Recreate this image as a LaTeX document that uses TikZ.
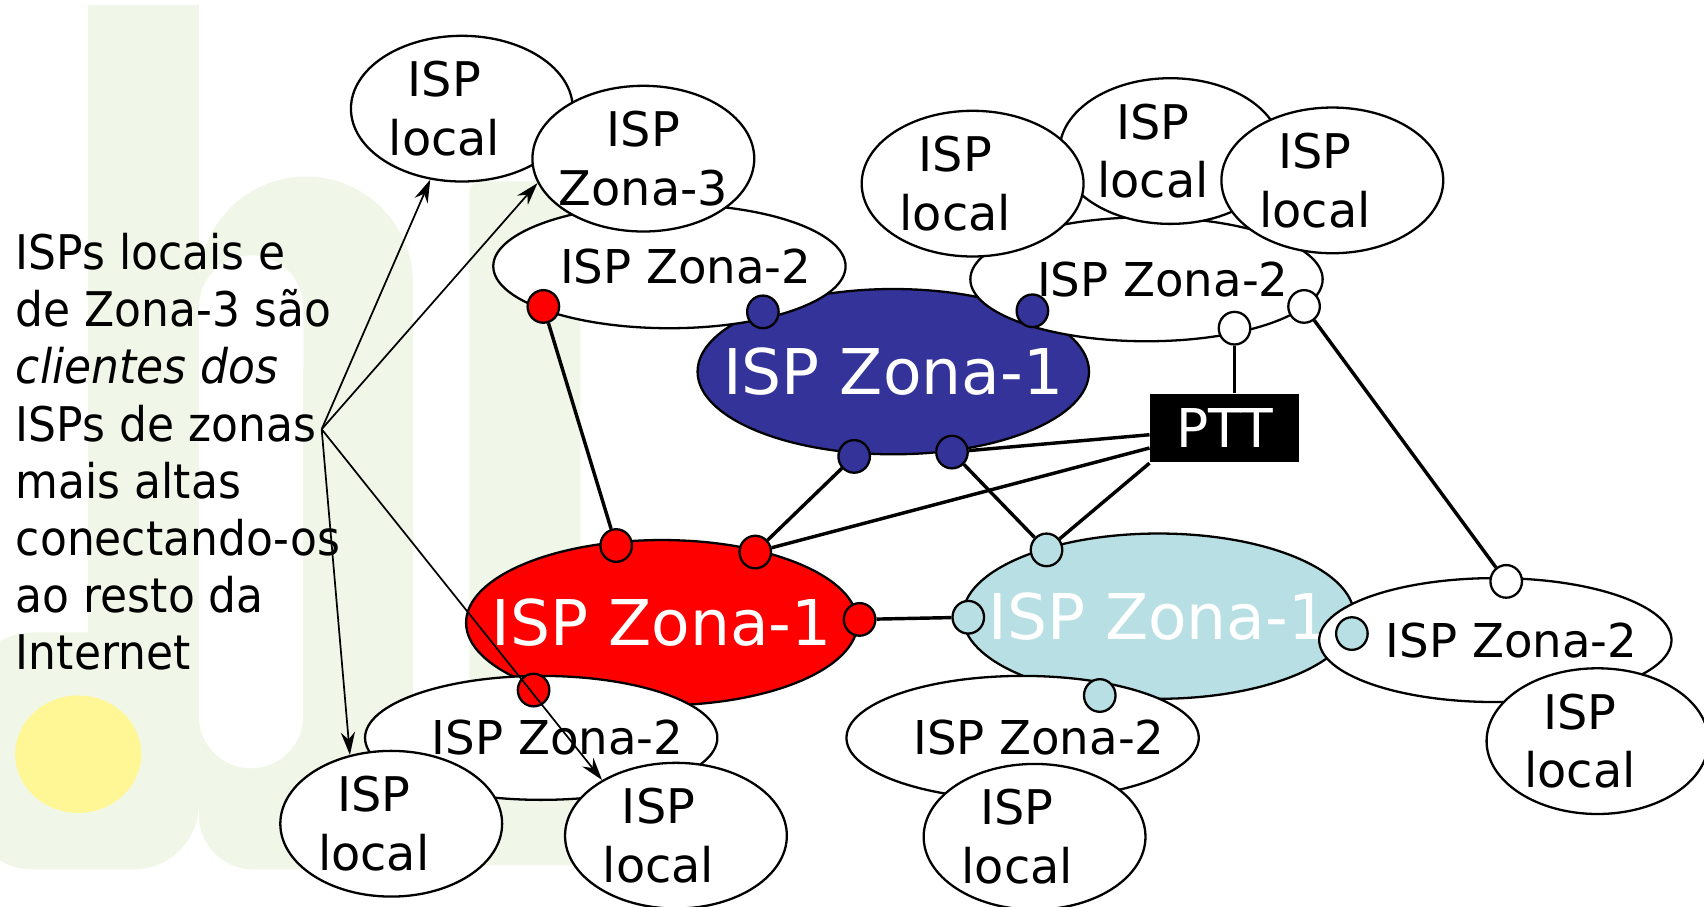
\documentclass[tikz,border=0pt]{standalone}
\usepackage{fontspec}
\setmainfont{DejaVu Sans}
\newfontfamily\textoesq{DejaVu Sans}[FakeStretch=0.92]
\usetikzlibrary{arrows.meta, shapes.geometric}
\definecolor{zonaazul}{RGB}{51,51,153}
\definecolor{zonavermelha}{RGB}{255,0,0}
\definecolor{zonaclara}{RGB}{184,223,227}
\definecolor{marcaverde}{RGB}{240,247,232}
\definecolor{marcaamarela}{RGB}{255,247,150}
\newcommand{\isploc}{ISP\hspace*{3.2mm}\\local\hspace*{3.2mm}}

\begin{document}
\begin{tikzpicture}[x=0.01cm, y=-0.01cm, font=\fontsize{12.5}{15.3}\selectfont,
    isp/.style={ellipse, draw, fill=white, line width=0.6pt, inner sep=-10pt, align=center},
    isplocal/.style={isp, minimum width=2.04cm, minimum height=1.34cm},
    zonadois/.style={isp, minimum width=3.24cm, minimum height=1.14cm, font=\fontsize{12.2}{14}\selectfont},
    zonaum/.style={isp, fill=#1, text=white, minimum width=3.6cm, minimum height=1.52cm, font=\fontsize{16.5}{19}\selectfont},
    porta/.style={ellipse, draw, fill=#1, line width=0.6pt, minimum width=0.29cm, minimum height=0.3cm, inner sep=0pt},
    enlace/.style={line width=0.9pt},
    seta/.style={line width=0.45pt, -{Stealth[length=0.21cm, width=0.13cm]}}]
    \useasboundingbox (0,0) rectangle (1568,834);

    % marca d'agua
    \fill[marcaverde] (81,5) rectangle (183,740);
    \fill[marcaverde, rounded corners=0.6cm] (-30,582) rectangle (183,800);
    \fill[marcaverde, even odd rule] (183,750) -- (183,261) arc[start angle=180, end angle=0, radius=0.985cm] -- (380,750) arc[start angle=0, end angle=-90, radius=0.5cm] -- (233,800) arc[start angle=-90, end angle=-180, radius=0.5cm] -- cycle
        (183,283) arc[start angle=180, end angle=0, radius=0.48cm] -- (279,659) arc[start angle=0, end angle=-180, radius=0.48cm] -- cycle;
    \fill[marcaverde, rounded corners=0.1cm] (432,167) rectangle (534,796);
    \fill[marcaamarela] (72,694) ellipse [x radius=0.58cm, y radius=0.54cm];

    \node[anchor=north west, inner sep=0pt, align=left, font=\textoesq\fontsize{12.5}{14.96}\selectfont] (texto) at (14,214)
        {ISPs locais e\\de Zona-3 são\\\textit{clientes dos}\\ISPs de zonas\\mais altas\\conectando-os\\ao resto da\\Internet};

    % zona-1 azul e vizinhos
    \node[isplocal] (locA) at (425,100) {\isploc};
    \node[zonaum=zonaazul] (z1azul) at (822,342) {ISP Zona-1};
    \node[zonadois] (z2a) at (616,245) {\hspace*{3mm}ISP Zona-2};
    \node[isplocal] (z3) at (592,146) {ISP\\Zona-3};
    \node[zonadois] (z2b) at (1055,257) {\hspace*{3mm}ISP Zona-2};
    \node[isplocal] (locB) at (1077,139) {\isploc};
    \node[isplocal] (locC) at (895,169) {\isploc};
    \node[isplocal] (locD) at (1226,166) {\isploc};

    % zona-1 vermelho
    \node[zonaum=zonavermelha] (z1verm) at (609,573) {ISP Zona-1};
    \node[zonadois] (z2c) at (498,679) {\hspace*{3mm}ISP Zona-2};
    \node[isplocal] (locE) at (360,758) {\isploc};
    \node[isplocal] (locF) at (622,769) {\isploc};

    % zona-1 clara
    \node[zonaum=zonaclara] (z1claro) at (1066,567) {ISP Zona-1};
    \node[zonadois] (z2d) at (941,679) {\hspace*{3mm}ISP Zona-2};
    \node[isplocal] (locG) at (952,770) {\isploc};
    \node[zonadois] (z2e) at (1376,589) {\hspace*{3mm}ISP Zona-2};
    \node[isplocal] (locH) at (1470,682) {\isploc};

    \node[fill=black, text=white, minimum width=1.37cm, minimum height=0.63cm, inner sep=0pt, font=\fontsize{14}{16}\selectfont] (ptt) at (1127,394) {PTT};

    % pontos de conexao
    \node[porta=zonavermelha] (v1) at (500,282) {};
    \node[porta=zonavermelha] (v2) at (567,502) {};
    \node[porta=zonavermelha] (v3) at (695,508) {};
    \node[porta=zonavermelha] (v4) at (791,570) {};
    \node[porta=zonavermelha] (v5) at (491,635) {};
    \node[porta=zonaazul] (a1) at (702,287) {};
    \node[porta=zonaazul] (a2) at (950,286) {};
    \node[porta=zonaazul] (a3) at (786,420) {};
    \node[porta=zonaazul] (a4) at (876,416) {};
    \node[porta=white] (b1) at (1136,302) {};
    \node[porta=white] (b2) at (1200,282) {};
    \node[porta=white] (b3) at (1386,535) {};
    \node[porta=zonaclara] (c1) at (963,506) {};
    \node[porta=zonaclara] (c2) at (891,568) {};
    \node[porta=zonaclara] (c3) at (1244,583) {};
    \node[porta=zonaclara] (c4) at (1012,640) {};

    \draw[enlace] (v1) -- (v2);
    \draw[enlace] (a3) -- (v3);
    \draw[enlace] (a4) -- (c1);
    \draw[enlace] (a4) -- (ptt);
    \draw[enlace] (v3) -- (ptt);
    \draw[enlace] (c1) -- (ptt.south west);
    \draw[enlace] (v4) -- (c2);
    \draw[enlace] (b2) -- (b3);
    \draw[line width=0.6pt] (b1) -- (b1 |- ptt.north);

    \coordinate (origem) at (296,395);
    \draw[seta] (origem) -- (locA.246);
    \draw[seta] (origem) -- (z3.193);
    \draw[seta] (origem) -- (locE.121);
    \draw[seta] (origem) -- (locF.143);
\end{tikzpicture}
\end{document}
